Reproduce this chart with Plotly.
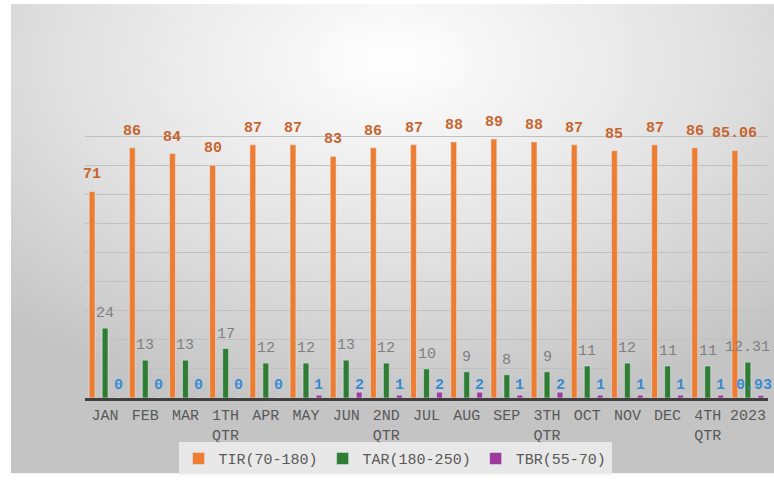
import base64
import plotly.graph_objects as go

categories = ["JAN", "FEB", "MAR", "1TH<br>QTR", "APR", "MAY", "JUN", "2ND<br>QTR",
              "JUL", "AUG", "SEP", "3TH<br>QTR", "OCT", "NOV", "DEC", "4TH<br>QTR", "2023"]
tir = [71, 86, 84, 80, 87, 87, 83, 86, 87, 88, 89, 88, 87, 85, 87, 86, 85.06]
tar = [24, 13, 13, 17, 12, 12, 13, 12, 10, 9, 8, 9, 11, 12, 11, 11, 12.31]
tbr = [0, 0, 0, 0, 0, 1, 2, 1, 2, 2, 1, 2, 1, 1, 1, 1, 0.93]
tir_text = ["71", "86", "84", "80", "87", "87", "83", "86", "87", "88", "89", "88", "87", "85", "87", "86", "85.06"]
tar_text = ["24", "13", "13", "17", "12", "12", "13", "12", "10", "9", "8", "9", "11", "12", "11", "11", "12.31"]
tbr_text = ["0", "0", "0", "0", "0", "1", "2", "1", "2", "2", "1", "2", "1", "1", "1", "1", "0.93"]
series_names = ["TIR(70-180)", "TAR(180-250)", "TBR(55-70)"]

ORANGE = "#ED7D31"
GREEN = "#2E7D32"
PURPLE = "#9E3A9E"
MONO = "Courier New, Liberation Mono, monospace"
LBLMONO = "Liberation Mono, DejaVu Sans Mono, monospace"

W, H = 774, 481
L, R, T, B = 85, 6, 107, 77
pw, ph = W - L - R, H - T - B

svg = ("<svg xmlns='http://www.w3.org/2000/svg' width='763' height='479' preserveAspectRatio='none'>"
       "<defs><radialGradient id='g' cx='0.5' cy='0.12' r='0.75'>"
       "<stop offset='0' stop-color='#ffffff'/>"
       "<stop offset='0.55' stop-color='#e2e2e2'/>"
       "<stop offset='1' stop-color='#c4c4c4'/>"
       "</radialGradient></defs>"
       "<rect x='0' y='0' width='763' height='479' fill='url(#g)'/></svg>")
src = "data:image/svg+xml;base64," + base64.b64encode(svg.encode()).decode()

fig = go.Figure()
fig.add_trace(go.Bar(x=categories, y=tir, name=series_names[0], marker_color=ORANGE))
fig.add_trace(go.Bar(x=categories, y=tar, name=series_names[1], marker_color=GREEN))
fig.add_trace(go.Bar(x=categories, y=tbr, name=series_names[2], marker_color=PURPLE))

annotations = []
for i, c in enumerate(categories):
    annotations.append(dict(x=i, y=tir[i], text=tir_text[i], showarrow=False, yanchor="bottom",
                            xshift=-13, yshift=6,
                            font=dict(family=LBLMONO, size=15, color="#C5652F", weight="bold")))
    annotations.append(dict(x=i, y=tar[i], text=tar_text[i], showarrow=False, yanchor="bottom",
                            xshift=0, yshift=4,
                            font=dict(family=MONO, size=15, color="#808080")))
    annotations.append(dict(x=i, y=0, text=tbr_text[i], showarrow=False, yanchor="bottom",
                            xshift=13 if i < len(categories) - 1 else 6, yshift=2,
                            font=dict(family=LBLMONO, size=15, color="#3A8BD0", weight="bold")))

fig.update_layout(
    width=W, height=H,
    margin=dict(l=L, r=R, t=T, b=B),
    paper_bgcolor="white",
    plot_bgcolor="rgba(0,0,0,0)",
    barmode="group",
    bargap=0.03,
    bargroupgap=0.55,
    showlegend=True,
    legend=dict(orientation="h", x=0.454, xanchor="center", y=-0.152, yanchor="top",
                bgcolor="rgba(238,238,238,0.85)",
                font=dict(family=MONO, size=15, color="#595959"),
                itemwidth=30, tracegroupgap=0),
    images=[dict(source=src, xref="paper", yref="paper",
                 x=(11 - L) / pw, y=1 + (T - 2) / ph,
                 sizex=763 / pw, sizey=479 / ph,
                 sizing="stretch", xanchor="left", yanchor="top", layer="below")],
    annotations=annotations,
)
fig.update_xaxes(type="category", range=[-0.5, len(categories) - 0.5],
                 showline=True, linecolor="#404040", linewidth=3,
                 tickfont=dict(family=MONO, size=15, color="#595959"),
                 ticks="", ticklabelstandoff=1, showgrid=False)
fig.update_yaxes(range=[0, 100], dtick=10, showticklabels=False,
                 showgrid=True, gridcolor="#c0c0c0", gridwidth=1, zeroline=False)

fig.write_html("out.html")
